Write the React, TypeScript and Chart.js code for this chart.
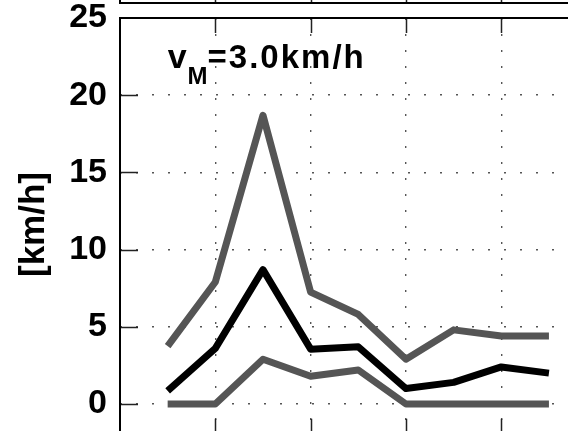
import React, { useEffect, useRef } from "react";
import { Chart, registerables } from "chart.js";

Chart.register(...registerables);

// ---- data ----
const xValues = [1, 2, 3, 4, 5, 6, 7, 8, 9];
const upperValues = [3.75, 7.9, 18.7, 7.25, 5.8, 2.9, 4.8, 4.4, 4.4];
const meanValues = [0.85, 3.6, 8.7, 3.55, 3.7, 1.0, 1.4, 2.4, 2.0];
const lowerValues = [0, 0, 2.9, 1.8, 2.2, 0, 0, 0, 0];
const yTickValues = [0, 5, 10, 15, 20, 25];
const xGridValues = [2, 4, 6, 8];
const yAxisLabel = "[km/h]";
const annotationMain = "v";
const annotationSub = "M";
const annotationRest = "=3.0km/h";

const FONT = '"Liberation Sans", Arial, Helvetica, sans-serif';
const GRAY = "#555555";

export default function App() {
  const ref = useRef<HTMLCanvasElement>(null);

  useEffect(() => {
    const canvas = ref.current;
    if (!canvas) return;

    const framePlugin = {
      id: "frame",
      afterDatasetsDraw(chart: any) {
        const { ctx, chartArea: a, scales } = chart;
        const xs = scales.x;
        const ys = scales.y;
        ctx.save();
        ctx.setLineDash([]);
        // ticks (inward, MATLAB style)
        ctx.strokeStyle = "#222";
        ctx.lineWidth = 1.5;
        const bottomAxis = ys.getPixelForValue(-2);
        const aboveAxis = a.top - 15;
        ctx.beginPath();
        for (const v of xGridValues) {
          const px = Math.round(xs.getPixelForValue(v)) + 0.5;
          ctx.moveTo(px, a.top);
          ctx.lineTo(px, a.top + 15);
          ctx.moveTo(px, bottomAxis);
          ctx.lineTo(px, bottomAxis - 16);
          ctx.moveTo(px, aboveAxis);
          ctx.lineTo(px, aboveAxis - 15);
        }
        for (const v of yTickValues) {
          if (v === 25) continue;
          const py = Math.round(ys.getPixelForValue(v)) + 0.5;
          ctx.moveTo(a.left, py);
          ctx.lineTo(a.left + 18, py);
        }
        ctx.stroke();
        // axis borders
        ctx.strokeStyle = "#000";
        ctx.lineWidth = 2;
        ctx.beginPath();
        ctx.moveTo(a.left, a.bottom);
        ctx.lineTo(a.left, a.top);
        ctx.lineTo(a.right, a.top);
        ctx.moveTo(a.left, 0);
        ctx.lineTo(a.left, aboveAxis);
        ctx.lineTo(a.right, aboveAxis);
        ctx.stroke();

        // annotation text
        const x0 = xs.getPixelForValue(1);
        const y0 = ys.getPixelForValue(21.75);
        ctx.fillStyle = "#000";
        ctx.textBaseline = "alphabetic";
        ctx.textAlign = "left";
        ctx.font = `bold 34px ${FONT}`;
        ctx.fillText(annotationMain, x0, y0);
        let cx = x0 + ctx.measureText(annotationMain).width + 1;
        ctx.font = `bold 24px ${FONT}`;
        ctx.fillText(annotationSub, cx, y0 + 16);
        cx += ctx.measureText(annotationSub).width;
        ctx.font = `bold 33px ${FONT}`;
        (ctx as any).letterSpacing = "2px";
        ctx.fillText(annotationRest, cx, y0);
        ctx.restore();
      },
    };

    const mk = (vals: number[], color: string) => ({
      data: xValues.map((x, i) => ({ x, y: vals[i] })),
      borderColor: color,
      backgroundColor: color,
      borderWidth: 7,
      pointRadius: 0,
      fill: false,
      tension: 0,
      borderJoinStyle: "round" as const,
      borderCapStyle: "butt" as const,
    });

    const chart = new Chart(canvas, {
      type: "line",
      data: {
        datasets: [
          mk(meanValues, "#000000"),
          mk(upperValues, GRAY),
          mk(lowerValues, GRAY),
        ],
      },
      options: {
        animation: false,
        responsive: false,
        devicePixelRatio: 1,
        layout: { padding: { top: 18, left: 0, right: 0, bottom: 0 } },
        plugins: {
          legend: { display: false },
          tooltip: { enabled: false },
        },
        scales: {
          x: {
            type: "linear",
            min: 0,
            max: 9.4,
            afterBuildTicks: (s: any) => {
              s.ticks = xGridValues.map((v) => ({ value: v }));
            },
            afterFit: (s: any) => {
              s.height = 0;
              s.paddingLeft = 0;
              s.paddingRight = 0;
            },
            ticks: { display: false },
            grid: { drawTicks: false, color: "#555", lineWidth: 1.4 },
            border: { display: false, dash: [2, 14] },
          },
          y: {
            type: "linear",
            min: -1.75,
            max: 25,
            afterBuildTicks: (s: any) => {
              s.ticks = yTickValues.map((v) => ({ value: v }));
            },
            afterFit: (s: any) => {
              s.width = 120;
              s.paddingTop = 0;
              s.paddingBottom = 0;
            },
            ticks: {
              color: "#000",
              padding: 13,
              font: { family: FONT, size: 34, weight: "bold", lineHeight: 1 },
            },
            grid: { drawTicks: false, color: "#555", lineWidth: 1.4 },
            border: { display: false, dash: [2, 14] },
            title: {
              display: true,
              text: yAxisLabel,
              color: "#000",
              font: { family: FONT, size: 35, weight: "bold", lineHeight: 1.2 },
              padding: { top: 13, bottom: 0 },
            },
          },
        },
      },
      plugins: [framePlugin],
    });

    return () => chart.destroy();
  }, []);

  return (
    <div style={{ position: "fixed", left: 0, top: 0, width: 568, height: 431, background: "#fff" }}>
      <canvas ref={ref} width={568} height={431} style={{ display: "block", width: 568, height: 431 }} />
    </div>
  );
}
